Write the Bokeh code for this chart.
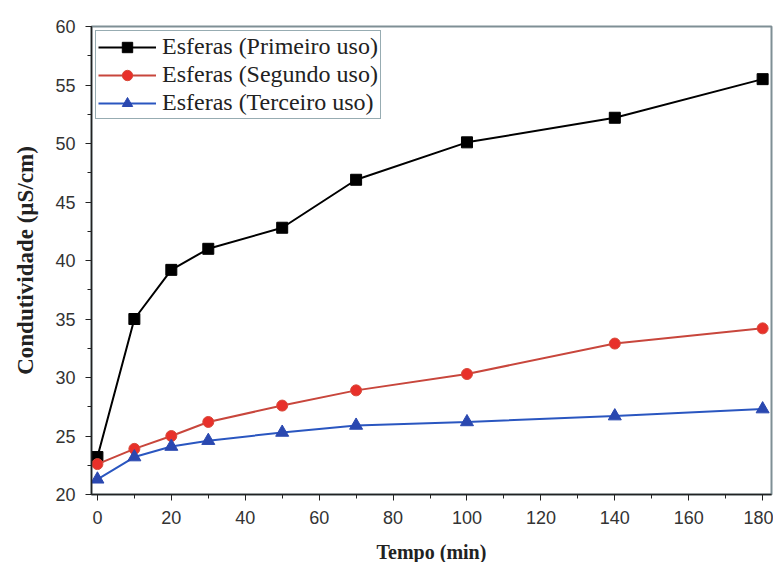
from bokeh.plotting import figure
from bokeh.embed import file_html
from bokeh.resources import INLINE
from bokeh.models import Range1d, FixedTicker, Legend, LegendItem

tempo = [0, 10, 20, 30, 50, 70, 100, 140, 180]
primeiro = [23.2, 35.0, 39.2, 41.0, 42.8, 46.9, 50.1, 52.2, 55.5]
segundo = [22.6, 23.9, 25.0, 26.2, 27.6, 28.9, 30.3, 32.9, 34.2]
terceiro = [21.3, 23.2, 24.1, 24.6, 25.3, 25.9, 26.2, 26.7, 27.3]
x_ticks = [0, 20, 40, 60, 80, 100, 120, 140, 160, 180]
y_ticks = [20, 25, 30, 35, 40, 45, 50, 55, 60]

p = figure(width=773, height=562, output_backend="svg", toolbar_location=None,
           x_range=Range1d(-1.6, 182.4), y_range=Range1d(20, 60),
           min_border_left=91, min_border_right=2, min_border_top=26, min_border_bottom=10)
p.frame_width = 680
p.frame_height = 468
p.background_fill_color = "white"
p.border_fill_color = "white"
p.outline_line_color = "#7f8f95"
p.outline_line_width = 2
p.grid.visible = False

p.xaxis.ticker = FixedTicker(ticks=x_ticks, minor_ticks=list(range(0, 181, 10)))
p.yaxis.ticker = FixedTicker(ticks=y_ticks, minor_ticks=[20 + 2.5 * i for i in range(17)])
for ax in (p.xaxis, p.yaxis):
    ax.axis_line_color = "#222222"
    ax.axis_line_width = 1.5
    ax.major_tick_in = 0
    ax.major_tick_out = 6
    ax.minor_tick_in = 0
    ax.minor_tick_out = 4
    ax.major_tick_line_color = "#222222"
    ax.minor_tick_line_color = "#222222"
    ax.major_label_text_font = "Liberation Sans"
    ax.major_label_text_font_size = "18px"
    ax.major_label_text_color = "#333333"
    ax.axis_label_text_font = "Liberation Serif"
    ax.axis_label_text_font_style = "bold"
    ax.axis_label_text_color = "#222222"

p.xaxis.axis_label = "Tempo (min)"
p.yaxis.axis_label = "Condutividade (µS/cm)"
p.xaxis.axis_label_text_font_size = "20px"
p.yaxis.axis_label_text_font_size = "23px"
p.xaxis.axis_label_standoff = 14
p.yaxis.axis_label_standoff = 14
p.xaxis.major_label_standoff = 10
p.yaxis.major_label_standoff = 10

l1 = p.line(tempo, primeiro, line_color="black", line_width=2)
m1 = p.scatter(tempo, primeiro, marker="square", size=11, fill_color="black", line_color="black")
l2 = p.line(tempo, segundo, line_color="#c8463c", line_width=2)
m2 = p.scatter(tempo, segundo, marker="circle", size=11, fill_color="#e8302a", line_color="#d84a3a")
l3 = p.line(tempo, terceiro, line_color="#2a56c0", line_width=2)
m3 = p.scatter(tempo, terceiro, marker="triangle", size=13, fill_color="#2a48b0", line_color="#2a48b0")

legend = Legend(items=[
    LegendItem(label="Esferas (Primeiro uso)", renderers=[l1, m1]),
    LegendItem(label="Esferas (Segundo uso)", renderers=[l2, m2]),
    LegendItem(label="Esferas (Terceiro uso)", renderers=[l3, m3]),
], location="top_left")
legend.label_text_font = "Liberation Serif"
legend.label_text_font_size = "24px"
legend.label_text_color = "#222222"
legend.border_line_color = "#2f5a66"
legend.border_line_width = 1.5
legend.margin = 4
legend.padding = 2
legend.spacing = 1
legend.glyph_width = 58
legend.label_standoff = 6
legend.label_height = 26
legend.glyph_height = 26
p.add_layout(legend)

open("out.html", "w").write(file_html(p, INLINE))
